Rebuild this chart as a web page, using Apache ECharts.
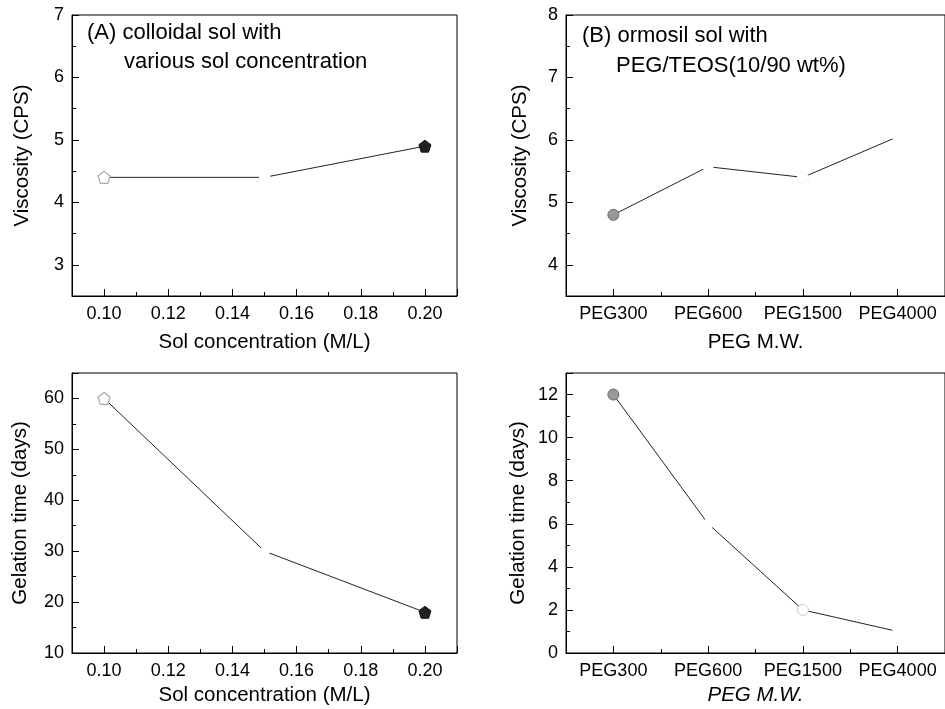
<!DOCTYPE html>
<html><head><meta charset="utf-8">
<script src="https://cdn.jsdelivr.net/npm/echarts@6/dist/echarts.min.js"></script>
<style>html,body{margin:0;padding:0;background:#fff}#c{width:945px;height:709px}</style>
</head><body><div id="c"></div>
<script>
// ---- data ----
const solConc = [0.10, 0.15, 0.20];
const viscosityA = [4.4, 4.4, 4.9];
const gelationA = [60, 30, 18];
const pegCategories = ['PEG300', 'PEG600', 'PEG1500', 'PEG4000'];
const viscosityB = [4.8, 5.57, 5.4, 6.05];
const gelationB = [12, 6, 2, 1];
const labelA1 = '(A) colloidal sol with';
const labelA2 = 'various sol concentration';
const labelB1 = '(B) ormosil sol with';
const labelB2 = 'PEG/TEOS(10/90 wt%)';
const xNameA = 'Sol concentration (M/L)';
const xNameB = 'PEG M.W.';
const yNameVisc = 'Viscosity (CPS)';
const yNameGel = 'Gelation time (days)';

// ---- styles ----
const FONT = 'Liberation Sans, Arial, sans-serif';
const pent = 'path://M50,0 L97.55,34.55 L79.39,90.45 L20.61,90.45 L2.45,34.55 Z';
const markA = [
  {color:'#fff', borderColor:'#aaa', borderWidth:1.2},
  {color:'#fff', borderColor:'#fff', borderWidth:0},
  {color:'#222', borderColor:'#111', borderWidth:1}
];
const markBtop = [
  {color:'#999', borderColor:'#666', borderWidth:1},
  {color:'#fff', borderColor:'#fff', borderWidth:0},
  {color:'#fff', borderColor:'#eee', borderWidth:1},
  {color:'#fff', borderColor:'#fff', borderWidth:0}
];
const markBbot = [
  {color:'#999', borderColor:'#666', borderWidth:1},
  {color:'#fff', borderColor:'#fff', borderWidth:0},
  {color:'#fff', borderColor:'#ccc', borderWidth:1},
  {color:'#fff', borderColor:'#fff', borderWidth:0}
];

const chart = echarts.init(document.getElementById('c'));
const grids = [
  {left:72, top:15, width:385, height:281},
  {left:72, top:373, width:385, height:280},
  {left:566, top:15, width:385, height:281},
  {left:566, top:373, width:385, height:280}
].map(g => Object.assign({show:true, borderColor:'#000', borderWidth:1, backgroundColor:'transparent'}, g));

const axLine = {show:true, lineStyle:{color:'#000', width:1}};
const lab = {color:'#000', fontSize:18, fontFamily:FONT};
const nameStyle = {color:'#000', fontSize:20.5, fontFamily:FONT};

function valX(gi, nameGap) {
  return {type:'value', gridIndex:gi, min:0.09, max:0.21, splitNumber:6,
    name:xNameA, nameLocation:'middle', nameGap:nameGap, nameTextStyle:nameStyle,
    axisLine:axLine, splitLine:{show:false},
    axisTick:{show:true, inside:true, length:7, lineStyle:{color:'#000'}},
    minorTick:{show:true, splitNumber:2, length:4, lineStyle:{color:'#000'}},
    axisLabel:Object.assign({margin:9, showMinLabel:false, showMaxLabel:false, formatter:v=>v.toFixed(2)}, lab)};
}
function catX(gi, nameGap, italic) {
  return {type:'category', gridIndex:gi, data:pegCategories, boundaryGap:true,
    name:xNameB, nameLocation:'middle', nameGap:nameGap,
    nameTextStyle:Object.assign({}, nameStyle, italic?{fontStyle:'italic'}:{}),
    axisLine:axLine, splitLine:{show:false},
    axisTick:{show:true, inside:true, alignWithLabel:true, interval:0, length:7, lineStyle:{color:'#000'}},
    axisLabel:Object.assign({margin:9, interval:0, hideOverlap:false}, lab)};
}
function catXMinor(gi) {
  return {type:'category', gridIndex:gi, data:pegCategories, boundaryGap:true, position:'bottom',
    axisLine:{show:false}, splitLine:{show:false},
    axisTick:{show:true, inside:true, interval:0, length:4, lineStyle:{color:'#000'}},
    axisLabel:{show:false}};
}
function valY(gi, min, max, interval, name, nameGap, hideMin, showMax) {
  const o = {type:'value', gridIndex:gi, min:min, max:max,
    name:name, nameLocation:'middle', nameGap:nameGap, nameTextStyle:nameStyle,
    axisLine:axLine, splitLine:{show:false},
    axisTick:{show:true, inside:true, length:7, lineStyle:{color:'#000'}},
    minorTick:{show:true, splitNumber:2, length:4, lineStyle:{color:'#000'}},
    axisLabel:Object.assign({margin:8, showMinLabel:!hideMin, showMaxLabel:showMax}, lab)};
  if (interval) o.interval = interval;
  return o;
}

function mkData(xs, ys, marks) {
  return ys.map((y,i) => ({value: xs ? [xs[i], y] : y, itemStyle: marks[i]}));
}
const lineStyle = {color:'#222', width:1};

chart.setOption({
  animation:false,
  grid:grids,
  xAxis:[valX(0, 36), valX(1, 32), catX(2, 36, false), catX(3, 32, true), catXMinor(2), catXMinor(3)],
  yAxis:[
    valY(0, 2.5, 7, null, yNameVisc, 39, true, true),
    valY(1, 10, 65, 10, yNameGel, 41, false, false),
    valY(2, 3.5, 8, null, yNameVisc, 35, true, true),
    valY(3, 0, 13, 2, yNameGel, 37, false, false)
  ],
  series:[
    {type:'line', xAxisIndex:0, yAxisIndex:0, data:mkData(solConc, viscosityA, markA), symbol:pent, symbolSize:12, showAllSymbol:true, lineStyle:lineStyle},
    {type:'line', xAxisIndex:1, yAxisIndex:1, data:mkData(solConc, gelationA, markA), symbol:pent, symbolSize:12, showAllSymbol:true, lineStyle:lineStyle},
    {type:'line', xAxisIndex:2, yAxisIndex:2, data:mkData(null, viscosityB, markBtop), symbol:'circle', symbolSize:11, showAllSymbol:true, lineStyle:lineStyle},
    {type:'line', xAxisIndex:3, yAxisIndex:3, data:mkData(null, gelationB, markBbot), symbol:'circle', symbolSize:11, showAllSymbol:true, lineStyle:lineStyle}
  ],
  graphic:[
    {type:'text', left:87, top:22, style:{text:labelA1, fontSize:22, fontFamily:FONT, fill:'#000'}},
    {type:'text', left:124, top:51, style:{text:labelA2, fontSize:22, fontFamily:FONT, fill:'#000'}},
    {type:'text', left:582, top:25, style:{text:labelB1, fontSize:22, fontFamily:FONT, fill:'#000'}},
    {type:'text', left:616, top:55, style:{text:labelB2, fontSize:22, fontFamily:FONT, fill:'#000'}}
  ]
});
</script></body></html>
